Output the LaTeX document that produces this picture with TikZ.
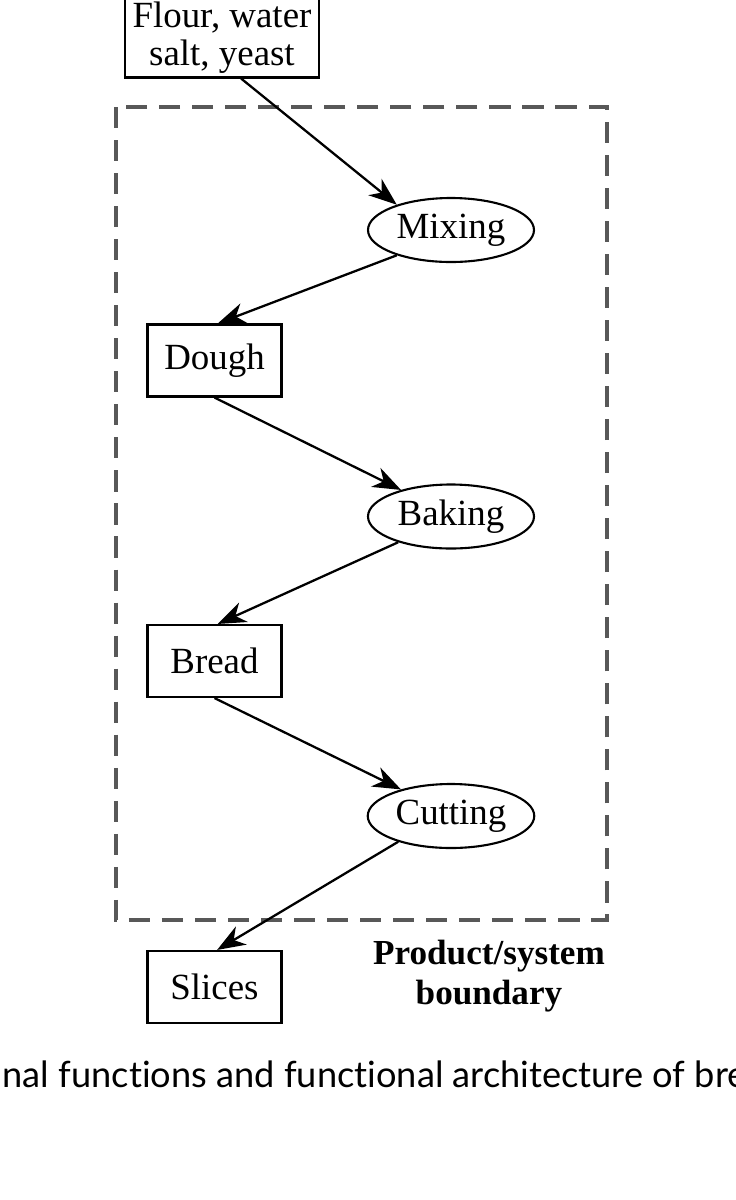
\documentclass[tikz,border=0pt]{standalone}
\usepackage{fontspec}
\setmainfont{Liberation Serif}
\newfontfamily\capfont[Ligatures=NoCommon]{Lato}
\usepackage{tikz}
\usetikzlibrary{shapes.geometric, arrows.meta, positioning}

\definecolor{boundgray}{RGB}{88,88,88}

\begin{document}
\begin{tikzpicture}[
    node distance=1cm,
    font=\fontsize{10.5}{10.8}\selectfont,
    item/.style={rectangle, minimum width=1.34cm, minimum height=0.72cm, text centered, draw=black, line width=0.6pt, inner sep=1pt},
    func/.style={ellipse, minimum width=1.66cm, minimum height=0.64cm, text centered, draw=black, line width=0.6pt, inner sep=1pt},
    arrow/.style={line width=0.65pt, -{Stealth[length=8pt, width=6pt, inset=2.5pt]}},
    boundary/.style={draw=boundgray, line width=1.15pt, dash pattern=on 6pt off 3.4pt},
]
    \clip (0,0) rectangle (7.35,-12);

    % inputs
    \node (flour) [item, minimum width=1.94cm, minimum height=0.8cm, align=center] at (2.22,-0.375) {Flour, water\\salt, yeast};

    % functions and products
    \node (mixing) [func, on grid, below right=1.925cm and 2.29cm of flour] {Mixing};
    \node (dough) [item, on grid, below left=1.305cm and 2.365cm of mixing] {Dough};
    \node (baking) [func, on grid, below right=1.56cm and 2.365cm of dough] {Baking};
    \node (bread) [item, on grid, below left=1.445cm and 2.365cm of baking] {Bread};
    \node (cutting) [func, on grid, below right=1.55cm and 2.365cm of bread] {Cutting};
    \node (slices) [item, on grid, below left=1.71cm and 2.365cm of cutting] {Slices};

    % product/system boundary
    \draw [boundary] (1.16,-1.07) rectangle (6.07,-9.20);
    \node (boundlabel) [align=center, font=\fontsize{10}{11.4}\selectfont\bfseries] at (4.89,-9.765) {Product/system\\boundary};

    % caption
    \node (caption) [anchor=base west, inner sep=0pt, font=\capfont\fontsize{10.3}{12}\selectfont] at (0.02,-10.87) {nal functions and functional architecture of bre};

    \draw [arrow] (flour.-65) -- (mixing.155);
    \draw [arrow] (mixing.205) -- (dough.85);
    \draw [arrow] (dough.south) -- (baking.152);
    \draw [arrow] (baking.206) -- (bread.85);
    \draw [arrow] (bread.south) -- (cutting.152);
    \draw [arrow] (cutting.206) -- (slices.86);

\end{tikzpicture}
\end{document}
